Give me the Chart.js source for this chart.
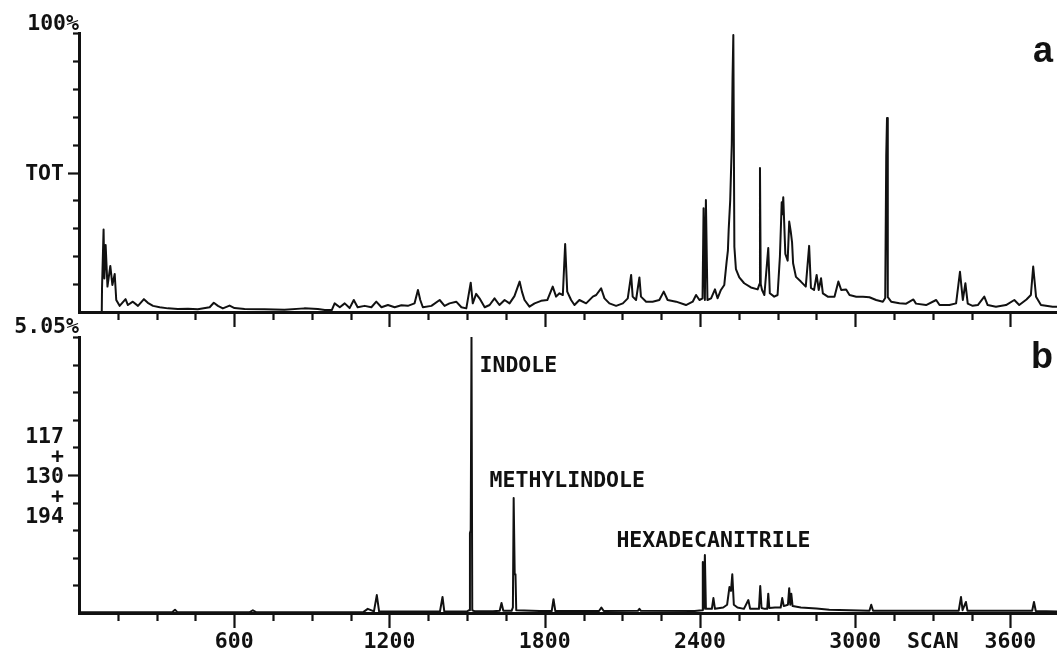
<!DOCTYPE html>
<html><head><meta charset="utf-8">
<script src="https://cdn.jsdelivr.net/npm/chart.js@4.4.1/dist/chart.umd.min.js"></script>
<style>
html,body{margin:0;padding:0;background:#fff;overflow:hidden;width:1057px;height:650px;}
#wrap{position:relative;width:1057px;height:650px;background:#fff;}
canvas{position:absolute;left:0;}
#cTop{top:0;width:1057px;height:335px;}
#cBot{top:310px;width:1057px;height:340px;}
</style></head><body>
<div id="wrap"><canvas id="cTop" width="1057" height="335"></canvas><canvas id="cBot" width="1057" height="340"></canvas></div>
<script>
// ---- Panel a: total ion current (TOT), % of full scale ----
const scansA = [0, 88, 89, 95, 98, 103, 110, 121, 129, 138, 144, 157, 180, 189, 208, 228, 251, 266, 286, 312, 344, 382, 421, 459, 505, 521, 537, 556, 582, 601, 640, 717, 794, 871, 923, 950, 977, 988, 1008, 1027, 1046, 1062, 1077, 1104, 1130, 1149, 1169, 1194, 1220, 1246, 1271, 1297, 1310, 1319, 1329, 1362, 1394, 1413, 1432, 1458, 1478, 1497, 1514, 1522, 1535, 1548, 1568, 1587, 1606, 1625, 1645, 1664, 1683, 1703, 1712, 1722, 1741, 1761, 1786, 1810, 1831, 1844, 1857, 1870, 1879, 1887, 1902, 1915, 1934, 1960, 1986, 1999, 2018, 2031, 2050, 2076, 2102, 2121, 2134, 2140, 2153, 2166, 2172, 2192, 2217, 2243, 2260, 2275, 2308, 2346, 2372, 2385, 2398, 2410, 2414, 2419, 2423, 2429, 2443, 2458, 2468, 2481, 2494, 2503, 2508, 2511, 2517, 2523, 2526, 2529, 2533, 2539, 2552, 2571, 2597, 2623, 2630, 2632, 2635, 2640, 2649, 2664, 2670, 2687, 2700, 2709, 2716, 2718, 2722, 2730, 2739, 2745, 2751, 2756, 2760, 2771, 2790, 2809, 2822, 2829, 2841, 2851, 2859, 2868, 2875, 2894, 2920, 2935, 2946, 2965, 2978, 3004, 3030, 3055, 3081, 3107, 3116, 3120, 3123, 3126, 3139, 3171, 3197, 3225, 3235, 3274, 3313, 3326, 3364, 3390, 3405, 3416, 3426, 3435, 3454, 3474, 3499, 3512, 3544, 3583, 3615, 3634, 3662, 3679, 3688, 3699, 3718, 3763, 3780];
const valsA = [0, 0, 8.6, 29.6, 12, 24, 9.1, 16.5, 9.7, 13.6, 4.3, 2.2, 4.6, 2.5, 3.7, 2.2, 4.6, 3.3, 2.2, 1.7, 1.3, 1.1, 1.2, 1.0, 1.7, 3.3, 2.2, 1.3, 2.3, 1.4, 1.1, 1.0, 0.8, 1.3, 1.1, 0.7, 0.7, 3.1, 1.7, 3.1, 1.4, 4.3, 1.7, 2.2, 1.7, 3.7, 1.7, 2.5, 1.7, 2.4, 2.2, 3.1, 7.9, 4.3, 1.7, 2.2, 4.3, 2.2, 3.1, 3.7, 1.7, 1.3, 10.5, 3.1, 6.5, 4.9, 1.7, 2.5, 4.9, 2.5, 4.3, 3.1, 5.7, 10.9, 7.3, 4.3, 1.9, 3.1, 4.0, 4.3, 9.1, 5.5, 6.7, 6.1, 24.4, 7.3, 4.3, 2.5, 4.3, 3.1, 5.5, 6.1, 8.5, 4.9, 3.1, 2.2, 3.1, 4.9, 13.3, 5.5, 4.3, 12.4, 5.5, 3.7, 3.7, 4.3, 7.3, 4.3, 3.7, 2.5, 3.7, 6.1, 4.3, 4.9, 37.2, 4.3, 40.1, 4.3, 4.9, 8.1, 4.9, 7.9, 9.7, 18.0, 22, 29.4, 40.1, 60, 84, 99.3, 23.4, 15.4, 12.4, 10.3, 8.8, 8.1, 10, 51.6, 10, 7.9, 6.1, 22.9, 6.7, 5.5, 6.1, 19.8, 39.3, 35, 41.1, 20.8, 18.4, 32.4, 28.8, 25, 17.5, 12.6, 10.9, 9.1, 23.7, 8.6, 7.9, 13.3, 7.9, 12.1, 6.7, 5.5, 5.5, 10.9, 7.9, 8.1, 6.1, 5.5, 5.5, 5.3, 4.3, 3.7, 5, 56, 69.5, 5.3, 3.7, 3.1, 3.0, 4.5, 3.0, 2.5, 4.3, 2.5, 2.5, 3.1, 14.4, 4.3, 10.3, 3.0, 2.2, 2.5, 5.5, 2.5, 1.9, 2.5, 4.3, 2.5, 4.5, 6.1, 16.3, 5.5, 2.5, 1.9, 1.9];

// ---- Panel b: m/z 117 + 130 + 194, % of 5.05% full scale ----
const scansB = [0, 360, 371, 380, 660, 672, 684, 1100, 1116, 1140, 1151, 1160, 1395, 1405, 1412, 1500, 1508, 1511, 1514, 1517, 1520, 1530, 1600, 1626, 1633, 1640, 1672, 1677, 1680, 1684, 1687, 1690, 1780, 1827, 1834, 1841, 2010, 2019, 2028, 2160, 2166, 2172, 2380, 2408, 2411, 2415, 2419, 2423, 2446, 2452, 2458, 2490, 2505, 2514, 2520, 2525, 2531, 2545, 2570, 2587, 2594, 2610, 2628, 2633, 2638, 2650, 2660, 2664, 2668, 2690, 2712, 2718, 2724, 2740, 2745, 2749, 2753, 2758, 2790, 2850, 2900, 3055, 3062, 3069, 3400, 3409, 3415, 3428, 3434, 3684, 3691, 3698, 3780];
const valsB = [0.3, 0.3, 1.2, 0.3, 0.3, 1.0, 0.3, 0.4, 1.5, 0.6, 6.5, 0.5, 0.5, 5.8, 0.5, 0.6, 1.0, 29, 30, 100, 1.0, 0.6, 0.6, 0.8, 3.6, 0.8, 0.8, 2, 41.7, 14, 14, 1, 0.7, 0.7, 5.0, 0.7, 0.7, 2, 0.7, 0.8, 1.5, 0.8, 0.7, 1, 18.5, 1.5, 21, 1.5, 1.5, 5.4, 1.5, 2, 3, 9.4, 8, 14, 3, 2, 1.5, 4.7, 1.5, 1.5, 1.5, 9.8, 1.8, 1.5, 1.5, 7, 1.8, 2, 2, 5.4, 2.5, 3, 9, 3, 7, 2.5, 2, 1.6, 1.2, 0.8, 3, 0.8, 0.8, 5.8, 1, 4, 0.8, 0.8, 4, 0.7, 0.5];

// ---- axis texts ----
const xLabelValues = [600, 1200, 1800, 2400, 3000, 3300, 3600];
const xLabelTexts = ['600', '1200', '1800', '2400', '3000', 'SCAN', '3600'];
const topSideLabels = ['TOT'];
const botSideLabels = ['117', '+', '130', '+', '194'];
const peakNames = ['INDOLE', 'METHYLINDOLE', 'HEXADECANITRILE'];
const peakNameScans = [1548, 1587, 2077];
const peakNameVals = [87.3, 45.7, 23.9];

const MONO = 'bold 21.5px "DejaVu Sans Mono", "Liberation Mono", monospace';
const SANS = 'bold 36px "Liberation Sans", Arial, sans-serif';
const INK = '#111';

function makeDeco(cfg) {
  return {
    id: 'deco',
    afterDraw(chart) {
      const ctx = chart.ctx, xs = chart.scales.x, ys = chart.scales.y, a = chart.chartArea;
      ctx.save();
      ctx.strokeStyle = INK; ctx.lineWidth = 2.2; ctx.lineCap = 'butt';
      xs.ticks.forEach(t => {
        if (t.value <= 0 || t.value % 150 !== 0) return;
        const x = Math.round(xs.getPixelForValue(t.value)) + 0.5;
        const len = t.value % 600 === 0 ? 15 : 8;
        ctx.beginPath(); ctx.moveTo(x, a.bottom); ctx.lineTo(x, a.bottom + len); ctx.stroke();
      });
      ys.ticks.forEach(t => {
        if (t.value <= 0) return;
        const y = Math.round(ys.getPixelForValue(t.value)) + 0.5;
        const len = t.value === 50 ? 11 : 6;
        ctx.beginPath(); ctx.moveTo(a.left - len, y); ctx.lineTo(a.left, y); ctx.stroke();
      });
      ctx.fillStyle = INK;
      ctx.font = MONO; ctx.textBaseline = 'alphabetic';
      ctx.textAlign = 'right';
      ctx.fillText(cfg.scaleText, a.left, cfg.scaleBaseline);
      const p50 = ys.getPixelForValue(50);
      const n = cfg.side.length, mid = (n - 1) / 2;
      cfg.side.forEach((s, i) => ctx.fillText(s, a.left - 15, p50 + 7.5 + (i - mid) * 20));
      if (cfg.xLabels) {
        ctx.textAlign = 'center';
        xLabelValues.forEach((v, i) => ctx.fillText(xLabelTexts[i], xs.getPixelForValue(v), cfg.xLabelBaseline));
      }
      if (cfg.peaks) {
        ctx.textAlign = 'left';
        peakNames.forEach((s, i) => ctx.fillText(s, xs.getPixelForValue(peakNameScans[i]), ys.getPixelForValue(peakNameVals[i])));
      }
      ctx.font = SANS; ctx.textAlign = 'right';
      ctx.fillText(cfg.letter, 1053, cfg.letterBaseline);
      ctx.restore();
    }
  };
}

function makeChart(id, xsArr, ysArr, pad, deco) {
  return new Chart(document.getElementById(id), {
    type: 'line',
    data: { datasets: [{
      data: xsArr.map((s, i) => ({ x: s, y: ysArr[i] })),
      borderColor: INK, borderWidth: 2, pointRadius: 0, tension: 0, fill: false,
      borderJoinStyle: 'round', borderCapStyle: 'round'
    }]},
    options: {
      responsive: false, animation: false, events: [],
      layout: { padding: pad },
      plugins: { legend: { display: false }, tooltip: { enabled: false }, title: { display: false } },
      scales: {
        x: { type: 'linear', min: 0, max: 3780,
             ticks: { display: false, stepSize: 150 },
             grid: { display: false, drawTicks: false },
             border: { display: true, color: INK, width: 3 },
             afterFit(s) { s.height = 0; } },
        y: { type: 'linear', min: 0, max: 100,
             ticks: { display: false, stepSize: 10 },
             grid: { display: false, drawTicks: false },
             border: { display: true, color: INK, width: 3 },
             afterFit(s) { s.width = 0; } }
      }
    },
    plugins: [deco]
  });
}

makeChart('cTop', scansA, valsA, { left: 79, top: 33, right: 0, bottom: 23 },
  makeDeco({ scaleText: '100%', scaleBaseline: 30, side: topSideLabels, letter: 'a', letterBaseline: 62, xLabels: false, peaks: false }));
makeChart('cBot', scansB, valsB, { left: 79, top: 27, right: 0, bottom: 37 },
  makeDeco({ scaleText: '5.05%', scaleBaseline: 23, side: botSideLabels, letter: 'b', letterBaseline: 58, xLabels: true, xLabelBaseline: 338, peaks: true }));
</script>
</body></html>
